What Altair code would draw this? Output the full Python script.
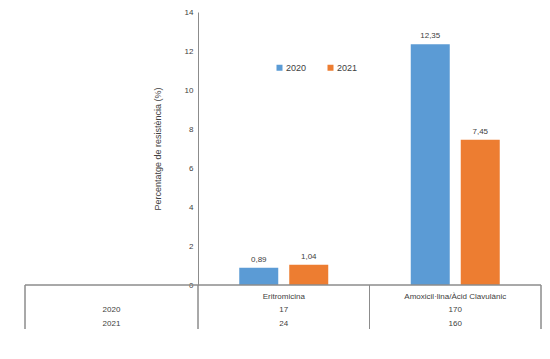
import altair as alt
import pandas as pd

# ---- data ----
categories = ["Eritromicina", "Amoxicil·lina/Àcid Clavulànic"]
years = ["2020", "2021"]
values_2020 = [0.89, 12.35]
values_2021 = [1.04, 7.45]
counts_2020 = [17, 170]
counts_2021 = [24, 160]
y_ticks = [0, 2, 4, 6, 8, 10, 12, 14]

BLUE = "#5B9BD5"
ORANGE = "#ED7D31"
TEXT = "#404040"
LINE = "#8C8C8C"
FONT = "Liberation Sans"

W, H = 343, 273
TABLE_LEFT = -173
ROW_CAT, ROW_Y = 285, [298, 312]
TABLE_BOTTOM = 317


def fmt(v):
    return f"{v:.2f}".replace(".", ",")


rows = []
for yr, vals in zip(years, [values_2020, values_2021]):
    for c, v in zip(categories, vals):
        rows.append({"category": c, "year": yr, "value": v, "label": fmt(v)})
bars_df = pd.DataFrame(rows)

cnt_rows = []
for yr, cnts in zip(years, [counts_2020, counts_2021]):
    for c, n in zip(categories, cnts):
        cnt_rows.append({"category": c, "year": yr, "count": str(n)})
cnt_df = pd.DataFrame(cnt_rows)
cat_df = pd.DataFrame({"category": categories})
yr_df = pd.DataFrame({"year": years})

x_enc = alt.X("category:N", sort=categories, axis=None,
              scale=alt.Scale(paddingInner=0.417, paddingOuter=0.2085))
xo_enc = alt.XOffset("year:N", sort=years,
                     scale=alt.Scale(paddingInner=0.22, paddingOuter=0.11))
y_axis = alt.Axis(values=y_ticks, tickCount=8,
                  title="Percentatge de resistència (%)",
                  ticks=False, grid=False, domainColor=LINE,
                  labelColor=TEXT, labelFontSize=8, labelFont=FONT,
                  labelPadding=5, labelOverlap=False, labelFlush=False,
                  labelSeparation=0, labelBound=False,
                  titleFont=FONT, titleFontSize=9,
                  titleFontWeight="normal", titleColor=TEXT,
                  titlePadding=22)
y_scale = alt.Scale(domain=[0, 14], nice=False)

bars = alt.Chart(bars_df).mark_bar().encode(
    x=x_enc, xOffset=xo_enc,
    y=alt.Y("value:Q", scale=y_scale, axis=y_axis),
    color=alt.Color("year:N", sort=years,
                    scale=alt.Scale(domain=years, range=[BLUE, ORANGE]),
                    legend=alt.Legend(orient="none", legendX=77, legendY=51,
                                      direction="horizontal", title=None,
                                      symbolType="square", symbolSize=36,
                                      symbolStrokeWidth=0, labelFontSize=9,
                                      labelFont=FONT, labelColor=TEXT,
                                      labelOffset=2, columnPadding=19,
                                      padding=0)),
)

bar_labels = alt.Chart(bars_df).mark_text(dy=-8, fontSize=8, font=FONT, color=TEXT).encode(
    x=x_enc, xOffset=xo_enc,
    y=alt.Y("value:Q", scale=y_scale, axis=y_axis), text="label:N"
)

layers = [bars, bar_labels]

# table lines
layers.append(alt.Chart(cat_df).mark_rule(color=LINE, strokeWidth=1).encode(
    x=alt.value(TABLE_LEFT), x2=alt.value(W), y=alt.value(H)))
for xv in [TABLE_LEFT, 0, W / 2, W]:
    layers.append(alt.Chart(cat_df).mark_rule(color=LINE, strokeWidth=1).encode(
        x=alt.value(xv), y=alt.value(H), y2=alt.value(TABLE_BOTTOM)))

# category header row
layers.append(alt.Chart(cat_df).mark_text(fontSize=8, font=FONT, color=TEXT).encode(
    x=alt.X("category:N", sort=categories), y=alt.value(ROW_CAT), text="category:N"))

# count rows and row headers
for i, yr in enumerate(years):
    layers.append(alt.Chart(cnt_df).transform_filter(alt.datum.year == yr)
                  .mark_text(fontSize=8, font=FONT, color=TEXT).encode(
        x=alt.X("category:N", sort=categories), y=alt.value(ROW_Y[i]), text="count:N"))
    layers.append(alt.Chart(yr_df).transform_filter(alt.datum.year == yr)
                  .mark_text(fontSize=8, font=FONT, color=TEXT).encode(
        x=alt.value(TABLE_LEFT / 2), y=alt.value(ROW_Y[i]), text="year:N"))

chart = alt.layer(*layers).properties(
    width=W, height=H,
    autosize=alt.AutoSizeParams(type="none"),
    padding={"left": 190, "top": 4, "right": 1, "bottom": 60},
).configure(font=FONT, view=alt.ViewConfig(stroke=None))

chart.save("out.html", embed_options={"renderer": "svg", "actions": False})
